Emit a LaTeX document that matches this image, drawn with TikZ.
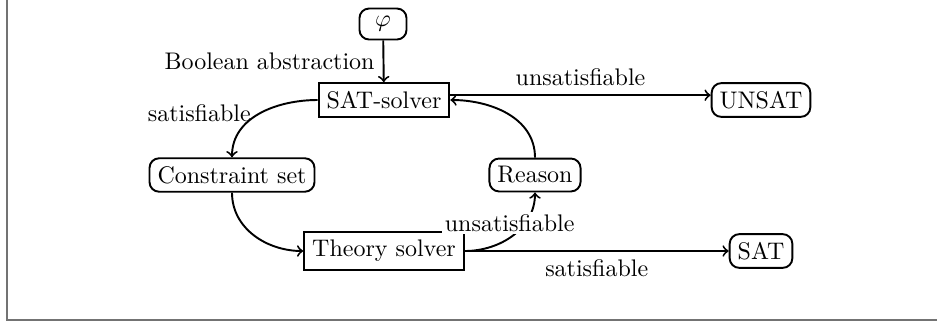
\documentclass[tikz,border=0pt]{standalone}
\usetikzlibrary{arrows}
\begin{document}
\begin{tikzpicture}[x=0.41667pt,y=-0.41667pt,
  box/.style={draw,thick,rectangle},
  rbox/.style={draw,thick,rectangle,rounded corners=4pt},
  conn/.style={->,thick},
  lbl/.style={inner sep=3.33pt}]
\useasboundingbox (0,0) rectangle (937,322);
\draw[black!55,line width=0.8pt] (7,-2) -- (7,320) -- (939,320);
\node[rbox,minimum width=19.6pt] (phi) at (383,24) {$\varphi$};
\node[box] (satsolver) at (384,100) {SAT-solver};
\node[rbox] (unsat) at (761,100) {UNSAT};
\node[rbox] (cons) at (232,175) {Constraint set};
\node[rbox] (reason) at (535,175) {Reason};
\node[box] (theory) at (384,251) {Theory solver};
\node[rbox] (sat) at (761,251) {SAT};
\draw[conn] (phi) -- node[midway,left] {Boolean abstraction} (satsolver);
\draw[conn] ([yshift=2pt]satsolver.east) -- node[midway,above] {unsatisfiable} ([yshift=2pt]unsat.west);
\draw[conn] (reason.north) to[out=90,in=0] (satsolver.east);
\draw[conn] (satsolver.west) to[out=180,in=90] node[midway,left] {satisfiable} (cons.north);
\draw[conn] (cons.south) to[out=-90,in=180] (theory.west);
\draw[conn] (theory.east) to[out=0,in=-90] node[midway,above,fill=white,inner sep=1pt,xshift=-1.5pt] {unsatisfiable} (reason.south);
\draw[conn] (theory.east) -- node[midway,below] {satisfiable} (sat);
\end{tikzpicture}
\end{document}
